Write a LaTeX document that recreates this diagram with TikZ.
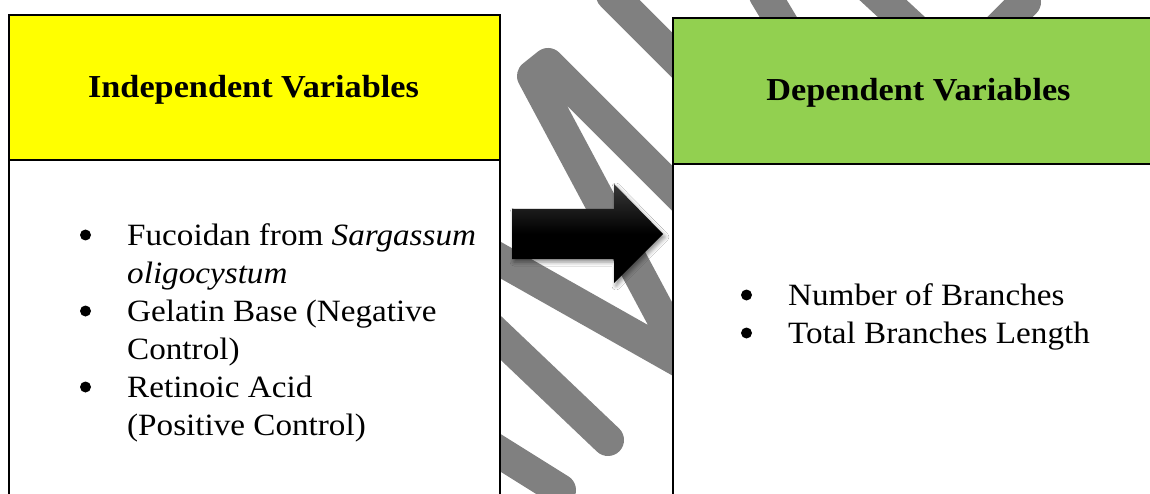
\documentclass[tikz,border=0pt]{standalone}
\usepackage{fontspec}
\setmainfont{Liberation Serif}[FakeStretch=1.07]
\usetikzlibrary{shadows.blur}
\definecolor{hdyellow}{HTML}{FFFF00}
\definecolor{hdgreen}{HTML}{92D050}
\definecolor{wmgray}{HTML}{808080}
\tikzset{
  wm/.style={draw=wmgray, line width=32pt, line cap=round, line join=round},
  headbox/.style={draw=black, line width=2pt, anchor=north west, inner sep=0pt},
  bodybox/.style={draw=black, line width=2pt, fill=white, anchor=north west, inner sep=0pt},
  headtext/.style={anchor=base, inner sep=0pt, font=\bfseries\fontsize{32}{38}\selectfont},
  itemtext/.style={anchor=base west, inner sep=0pt, font=\fontsize{31}{38}\selectfont},
  bulletdot/.style={circle, fill=black, inner sep=0pt, minimum size=11pt},
  blockarrow/.style={top color=black!78, bottom color=black, middle color=black,
    blur shadow={shadow xshift=2pt, shadow yshift=-3pt, shadow blur radius=4pt, shadow opacity=45}}
}
\begin{document}
\begin{tikzpicture}[x=1pt,y=-1pt]
\clip (0,0) rectangle (1150,494);
\fill[white] (0,0) rectangle (1150,494);
% watermark scribble
\draw[wm] (380,192) -- (688,366) -- (533,76) -- (548,64) -- (760,276);
\draw[wm] (760,143) -- (612,-5) -- (620,-40);
\draw[wm] (765,-5) -- (810,70);
\draw[wm] (870,-12) -- (950,62);
\draw[wm] (960,67) -- (1025,2);
\draw[wm] (400,242) -- (608,440);
\draw[wm] (400,390) -- (560,490);
% left box
\node[bodybox, minimum width=491pt, minimum height=380pt] (indbody) at (8,159) {};
\node[headbox, fill=hdyellow, minimum width=491pt, minimum height=145pt] (indhead) at (8,14) {};
% right box
\node[bodybox, minimum width=520pt, minimum height=380pt] (depbody) at (672,163) {};
\node[headbox, fill=hdgreen, minimum width=520pt, minimum height=146pt] (dephead) at (672,17) {};
% headings
\node[headtext] (indtitle) at (253.5,98) {Independent Variables};
\node[headtext] (deptitle) at (918.5,101) {Dependent Variables};
% left items
\node[bulletdot] (lb1) at (85.5,235) {};
\node[itemtext] (l1) at (127,245) {Fucoidan from \textit{Sargassum}};
\node[itemtext] (l2) at (127,283) {\textit{oligocystum}};
\node[bulletdot] (lb2) at (85.5,311) {};
\node[itemtext] (l3) at (127,321) {Gelatin Base (Negative};
\node[itemtext] (l4) at (127,359) {Control)};
\node[bulletdot] (lb3) at (85.5,387) {};
\node[itemtext] (l5) at (127,397) {Retinoic Acid};
\node[itemtext] (l6) at (127,435) {(Positive Control)};
% right items
\node[bulletdot] (rb1) at (746.5,295) {};
\node[itemtext] (r1) at (788,305) {Number of Branches};
\node[bulletdot] (rb2) at (746.5,333) {};
\node[itemtext] (r2) at (788,343) {Total Branches Length};
% block arrow
\path[blockarrow] (512,209) -- (614,209) -- (614,184) -- (663,234) -- (614,283) -- (614,259) -- (512,259) -- cycle;
\end{tikzpicture}
\end{document}
